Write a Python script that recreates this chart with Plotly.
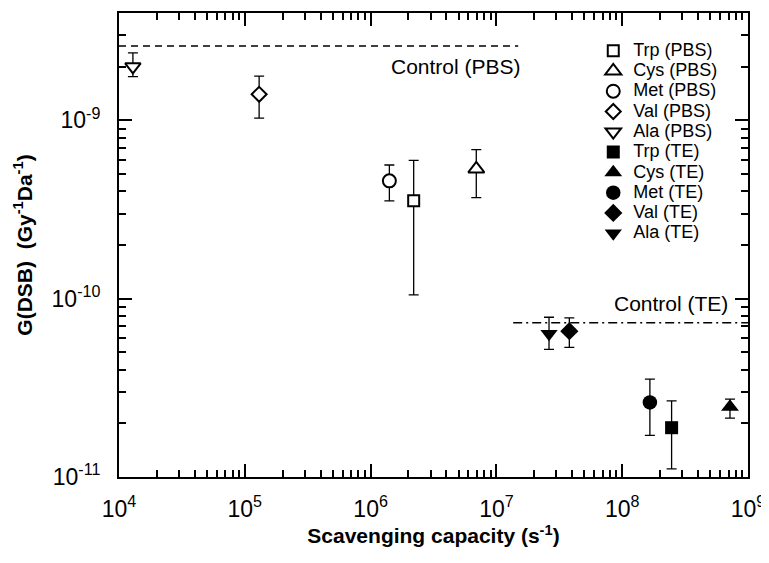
import plotly.graph_objects as go
import math

# ---------------- data ----------------
amino = ["Trp", "Cys", "Met", "Val", "Ala"]
symbols = ["square", "triangle-up", "circle", "diamond", "triangle-down"]

pbs_x = [2.20e6, 6.92e6, 1.41e6, 1.30e5, 1.29e4]
pbs_y = [3.54e-10, 5.34e-10, 4.58e-10, 1.40e-9, 2.00e-9]
pbs_hi = [5.97e-10, 6.85e-10, 5.62e-10, 1.77e-9, 2.39e-9]
pbs_lo = [1.05e-10, 3.69e-10, 3.54e-10, 1.03e-9, 1.76e-9]

te_x = [2.47e8, 7.19e8, 1.66e8, 3.80e7, 2.62e7]
te_y = [1.89e-11, 2.47e-11, 2.62e-11, 6.57e-11, 6.35e-11]
te_hi = [2.67e-11, 2.73e-11, 3.54e-11, 7.81e-11, 7.87e-11]
te_lo = [1.11e-11, 2.14e-11, 1.71e-11, 5.33e-11, 5.19e-11]

control_pbs_x = [1e4, 1.49e7]
control_pbs_y = 2.61e-9
control_te_x = [1.36e7, 1e9]
control_te_y = 7.34e-11

x_tickvals = [1e4, 1e5, 1e6, 1e7, 1e8, 1e9]
x_ticktext = ["10<sup>4</sup>", "10<sup>5</sup>", "10<sup>6</sup>", "10<sup>7</sup>", "10<sup>8</sup>", "10<sup>9</sup>"]
y_tickvals = [1e-11, 1e-10, 1e-9]
y_ticktext = ["10<sup>-11</sup>", "10<sup>-10</sup>", "10<sup>-9</sup>"]

open_sizes = [11, 14, 13, 11.5, 13.5]
fill_sizes = [13, 15.5, 14.5, 14, 15]

FONT = "Arial, Liberation Sans, sans-serif"

fig = go.Figure()

def legname(t):
    return '<span style="font-size:18px">' + t + '</span>'

for i, a in enumerate(amino):
    fig.add_trace(go.Scatter(
        x=[pbs_x[i]], y=[pbs_y[i]], mode="markers", name=legname(f"{a} (PBS)"),
        marker=dict(symbol=symbols[i], size=open_sizes[i], color="white",
                    line=dict(color="black", width=2)),
        error_y=dict(type="data", symmetric=False,
                     array=[pbs_hi[i] - pbs_y[i]], arrayminus=[pbs_y[i] - pbs_lo[i]],
                     color="black", thickness=1.3, width=5),
    ))
for i, a in enumerate(amino):
    fig.add_trace(go.Scatter(
        x=[te_x[i]], y=[te_y[i]], mode="markers", name=legname(f"{a} (TE)"),
        marker=dict(symbol=symbols[i], size=fill_sizes[i], color="black",
                    line=dict(color="black", width=0)),
        error_y=dict(type="data", symmetric=False,
                     array=[te_hi[i] - te_y[i]], arrayminus=[te_y[i] - te_lo[i]],
                     color="black", thickness=1.3, width=5),
    ))

fig.add_trace(go.Scatter(x=control_pbs_x, y=[control_pbs_y] * 2, mode="lines",
                         line=dict(color="black", width=1.5, dash="7px,5px"),
                         showlegend=False, hoverinfo="skip"))
fig.add_trace(go.Scatter(x=control_te_x, y=[control_te_y] * 2, mode="lines",
                         line=dict(color="black", width=1.5, dash="9px,4px,2px,4px"),
                         showlegend=False, hoverinfo="skip"))

fig.add_annotation(x=math.log10(1.63e7), y=math.log10(2.01e-9), xref="x", yref="y",
                   text="Control (PBS)", showarrow=False, xanchor="right", yanchor="middle",
                   font=dict(size=21, color="black", family=FONT))
fig.add_annotation(x=math.log10(7.2e8), y=math.log10(9.4e-11), xref="x", yref="y",
                   text="Control (TE)", showarrow=False, xanchor="right", yanchor="middle",
                   font=dict(size=21, color="black", family=FONT))

axis_common = dict(
    type="log", showgrid=False, zeroline=False, automargin=False,
    showline=True, linecolor="black", linewidth=2, mirror="ticks",
    ticks="inside", ticklen=13, tickwidth=2, tickcolor="black",
    tickfont=dict(size=23, color="black", family=FONT),
    minor=dict(ticks="inside", ticklen=7, tickwidth=1.5, tickcolor="black", dtick="D1", showgrid=False),
)

fig.update_xaxes(**axis_common, range=[4, 9], tickmode="array",
                 tickvals=x_tickvals, ticktext=x_ticktext, ticklabelstandoff=10,
                 title=dict(text="<b>Scavenging capacity (s<sup>-1</sup>)</b>",
                            font=dict(size=21, color="black", family=FONT), standoff=4))
fig.update_yaxes(**axis_common, range=[-11, math.log10(4e-9)], tickmode="array",
                 tickvals=y_tickvals, ticktext=y_ticktext, ticklabelstandoff=12,
                 title=dict(text="<b>G(DSB)  (Gy<sup>-1</sup>Da<sup>-1</sup>)</b>",
                            font=dict(size=21, color="black", family=FONT), standoff=13))

# page body has an 8px margin, so the figure is 8px smaller and margins are offset
fig.update_layout(
    width=761, height=555,
    margin=dict(l=111, r=21, t=5, b=86, autoexpand=False),
    plot_bgcolor="white", paper_bgcolor="white",
    font=dict(family=FONT, color="black"),
    showlegend=True,
    legend=dict(x=0.754, y=0.9515, xanchor="left", yanchor="top",
                font=dict(size=13.3, color="black", family=FONT),
                bgcolor="rgba(0,0,0,0)", borderwidth=0, tracegroupgap=0),
)

fig.write_html("out.html")
